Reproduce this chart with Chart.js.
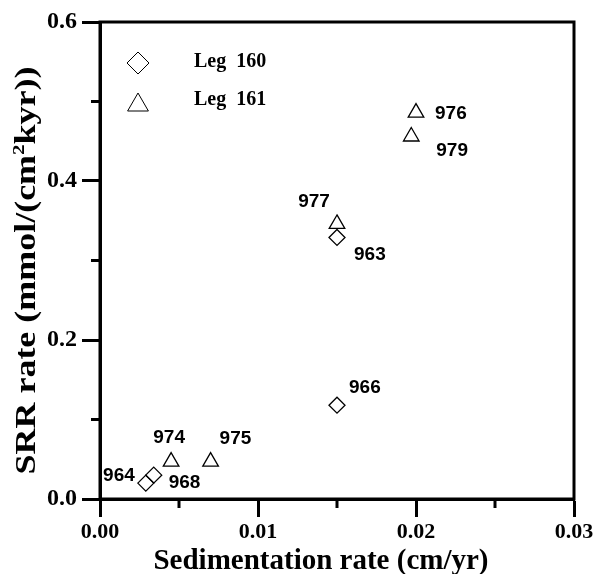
<!DOCTYPE html>
<html>
<head>
<meta charset="utf-8">
<script src="https://cdn.jsdelivr.net/npm/chart.js@4.4.1/dist/chart.umd.min.js"></script>
<style>
html,body{margin:0;padding:0;background:#fff;}
</style>
</head>
<body>
<canvas id="chart" width="599" height="574"></canvas>
<script>
// --- Data ---
const leg160Sites = ['963','964','966','968'];
const leg160Sed = [0.0150, 0.0029, 0.0150, 0.0034];
const leg160Srr = [0.329, 0.020, 0.118, 0.030];

const leg161Sites = ['974','975','976','977','979'];
const leg161Sed = [0.0045, 0.0070, 0.0200, 0.0150, 0.0197];
const leg161Srr = [0.047, 0.047, 0.486, 0.346, 0.456];

const xTicks = [0, 0.01, 0.02, 0.03];
const yTicks = [0, 0.2, 0.4, 0.6];
const xMinor = [0.005, 0.015, 0.025];
const yMinor = [0.1, 0.3, 0.5];

// where each site label sits next to its marker: [dx, dy, align]
const leg160LabelPos = [[17,17,'left'],[-11,-7,'right'],[12,-17,'left'],[15,8,'left']];
const leg161LabelPos = [[-2,-24,'center'],[9,-23,'left'],[19,1,'left'],[-23,-22,'center'],[25,14,'left']];

const serif = '"Liberation Serif", "Times New Roman", serif';
const sans = '"Liberation Sans", Arial, sans-serif';

const toPts = (xs,ys)=>xs.map((x,i)=>({x, y:ys[i]}));

// --- Plugins ---
const framePlugin = {
  id:'frame',
  afterDraw(chart){
    const {ctx, chartArea:a, scales:{x,y}} = chart;
    ctx.save();
    ctx.strokeStyle='#000'; ctx.lineWidth=3;
    ctx.strokeRect(a.left, a.top, a.right-a.left, a.bottom-a.top);
    xMinor.forEach(v=>{ const px=x.getPixelForValue(v); ctx.beginPath(); ctx.moveTo(px,a.bottom); ctx.lineTo(px,a.bottom+9); ctx.stroke(); });
    yMinor.forEach(v=>{ const py=y.getPixelForValue(v); ctx.beginPath(); ctx.moveTo(a.left,py); ctx.lineTo(a.left-9,py); ctx.stroke(); });
    ctx.restore();
  }
};

const siteLabelPlugin = {
  id:'siteLabels',
  afterDatasetsDraw(chart){
    const ctx=chart.ctx;
    const sets=[[leg160Sites,leg160LabelPos],[leg161Sites,leg161LabelPos]];
    ctx.save();
    ctx.fillStyle='#000';
    ctx.font='bold 19px '+sans;
    ctx.textBaseline='middle';
    sets.forEach(([names,pos],di)=>{
      chart.getDatasetMeta(di).data.forEach((el,i)=>{
        ctx.textAlign=pos[i][2];
        ctx.fillText(names[i], el.x+pos[i][0], el.y+pos[i][1]);
      });
    });
    ctx.restore();
  }
};

const legendPlugin = {
  id:'innerLegend',
  afterDraw(chart){
    const {ctx, chartArea:a} = chart;
    const items=[
      {text:'Leg  160', style:'rectRot', r:11, dy:41},
      {text:'Leg  161', style:'triangle', r:12, dy:83}
    ];
    ctx.save();
    items.forEach((it,i)=>{
      ctx.strokeStyle='#000'; ctx.fillStyle='rgba(0,0,0,0)';
      Chart.helpers.drawPoint(ctx,{pointStyle:it.style, radius:it.r, rotation:0, borderWidth:1.4}, a.left+38, a.top+it.dy);
      ctx.fillStyle='#000';
      ctx.font='bold 20px '+serif;
      ctx.textAlign='left'; ctx.textBaseline='middle';
      ctx.fillText(it.text, a.left+94, a.top+40+i*38);
    });
    ctx.restore();
  }
};

const axisTitlePlugin = {
  id:'axisTitles',
  afterDraw(chart){
    const {ctx, chartArea:a} = chart;
    const big='bold 29px '+serif, small='bold 17px '+serif;
    ctx.save();
    ctx.fillStyle='#000';
    // x title
    ctx.font=big; ctx.textAlign='center'; ctx.textBaseline='alphabetic';
    ctx.fillText('Sedimentation rate (cm/yr)', (a.left+a.right)/2-16, 569);
    // y title, with superscript 2
    const p1='SRR rate (mmol/(cm', p2='2', p3='kyr))';
    ctx.translate(34.5, (a.top+a.bottom)/2+10);
    ctx.rotate(-Math.PI/2);
    ctx.scale(1.24,1);
    ctx.textAlign='left';
    ctx.font=big; const w1=ctx.measureText(p1).width, w3=ctx.measureText(p3).width;
    ctx.font=small; const w2=ctx.measureText(p2).width;
    let xx=-(w1+w2+w3)/2;
    ctx.font=big; ctx.fillText(p1,xx,0); xx+=w1;
    ctx.font=small; ctx.fillText(p2,xx,-11); xx+=w2;
    ctx.font=big; ctx.fillText(p3,xx,0);
    ctx.restore();
  }
};

// --- Chart ---
const axisCommon = {
  type:'linear',
  grid:{drawOnChartArea:false, drawTicks:true, tickLength:18, tickWidth:3, tickColor:'#000'},
  border:{display:true, color:'#000', width:3},
  title:{display:false}
};

new Chart(document.getElementById('chart'),{
  type:'scatter',
  data:{
    datasets:[
      {label:'Leg 160', data:toPts(leg160Sed,leg160Srr), pointStyle:'rectRot', pointRadius:8, pointHoverRadius:8,
       borderColor:'#000', backgroundColor:'rgba(0,0,0,0)', borderWidth:1.3},
      {label:'Leg 161', data:toPts(leg161Sed,leg161Srr), pointStyle:'triangle', pointRadius:9, pointHoverRadius:9,
       borderColor:'#000', backgroundColor:'rgba(0,0,0,0)', borderWidth:1.3}
    ]
  },
  options:{
    responsive:false, animation:false,
    layout:{padding:{top:22,right:25,left:0,bottom:0}},
    plugins:{legend:{display:false}, tooltip:{enabled:false}},
    scales:{
      x:{...axisCommon, min:0, max:0.03,
        afterBuildTicks:s=>{ s.ticks=xTicks.map(v=>({value:v})); },
        afterFit:s=>{ s.height=75; },
        ticks:{padding:2, color:'#000', font:{family:serif, size:22, weight:'bold'}, callback:v=>v.toFixed(2)}},
      y:{...axisCommon, min:0, max:0.6,
        afterBuildTicks:s=>{ s.ticks=yTicks.map(v=>({value:v})); },
        afterFit:s=>{ s.width=100; },
        ticks:{padding:5, color:'#000', font:{family:serif, size:24, weight:'bold'}, callback:v=>v.toFixed(1)}}
    }
  },
  plugins:[framePlugin, siteLabelPlugin, legendPlugin, axisTitlePlugin]
});
</script>
</body>
</html>
